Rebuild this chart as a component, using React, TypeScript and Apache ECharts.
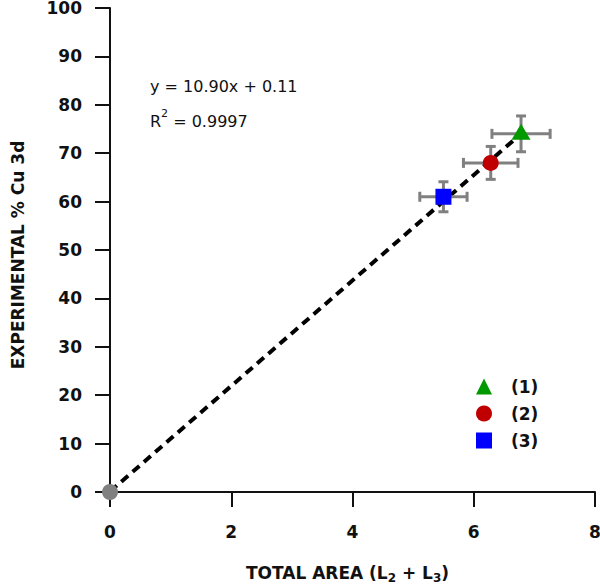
import React, { useEffect, useRef } from "react";
import * as echarts from "echarts";

const seriesNames = ["(1)", "(2)", "(3)"];
const xValues = [6.78, 6.28, 5.5];
const yValues = [74.0, 68.0, 61.0];
const xErrors = [0.48, 0.45, 0.39];
const yErrors = [3.7, 3.4, 3.1];
const originPoint = [0, 0];
const fitSlope = 10.9;
const fitIntercept = 0.11;
const fitXRange = [0, 6.78];
const xTicks = [0, 2, 4, 6, 8];
const yTicks = [0, 10, 20, 30, 40, 50, 60, 70, 80, 90, 100];
const equationText = "y = 10.90x + 0.11";
const r2Text = "0.9997";

const colors = ["#009900", "#c00000", "#0000ff"];
const symbols = ["triangle", "circle", "rect"];
const FONT = "'DejaVu Sans', sans-serif";

export default function App() {
  const ref = useRef<HTMLDivElement>(null);
  useEffect(() => {
    if (!ref.current) return;
    document.body.style.margin = "0";
    const chart = echarts.init(ref.current, null, { renderer: "svg" });
    const fitData = fitXRange.map((x) => [x, fitSlope * x + fitIntercept]);
    const errData = xValues.map((x, i) => [x, yValues[i], xErrors[i], yErrors[i]]);
    const axisCommon = {
      axisLine: { show: true, lineStyle: { color: "#111", width: 2 } },
      axisTick: { show: true, length: 15, lineStyle: { color: "#111", width: 2 } },
      splitLine: { show: false },
    };
    const option: any = {
      animation: false,
      backgroundColor: "#fff",
      grid: { left: 100, right: 5, top: 8, bottom: 86, outerBoundsMode: "none", containLabel: false },
      xAxis: {
        type: "value",
        min: -0.165,
        max: 8,
        ...axisCommon,
        axisTick: { ...axisCommon.axisTick, customValues: xTicks },
        axisLabel: {
          customValues: xTicks,
          showMaxLabel: true,
          hideOverlap: false,
          margin: 21,
          color: "#111",
          fontFamily: FONT,
          fontWeight: "bold",
          fontSize: 17,
        },
        name: "{a|TOTAL AREA (L}{s|2}{a| + L}{s|3}{a|)}",
        nameLocation: "middle",
        nameGap: 61,
        nameTextStyle: {
          rich: {
            a: { fontFamily: FONT, fontWeight: "bold", fontSize: 17, color: "#111", lineHeight: 20 },
            s: { fontFamily: FONT, fontWeight: "bold", fontSize: 12, color: "#111", padding: [10, 0, 0, 0], lineHeight: 20 },
          },
        },
      },
      yAxis: {
        type: "value",
        min: -2.06,
        max: 100,
        ...axisCommon,
        axisTick: { ...axisCommon.axisTick, customValues: yTicks },
        axisLabel: {
          customValues: yTicks,
          showMaxLabel: true,
          margin: 18,
          color: "#111",
          fontFamily: FONT,
          fontWeight: "bold",
          fontSize: 17,
          lineHeight: 15,
        },
        name: "EXPERIMENTAL % Cu 3d",
        nameLocation: "middle",
        nameGap: 74,
        nameTextStyle: { fontFamily: FONT, fontWeight: "bold", fontSize: 17, color: "#111" },
      },
      legend: {
        orient: "vertical",
        left: 471,
        top: 373,
        itemWidth: 16,
        itemHeight: 16,
        itemGap: 10,
        data: seriesNames.map((n, i) => ({ name: n, icon: symbols[i] })),
        textStyle: { fontFamily: FONT, fontWeight: "bold", fontSize: 17, color: "#111", padding: [0, 0, 0, 14] },
        selectedMode: false,
      },
      graphic: [
        {
          type: "text",
          left: 150,
          top: 78,
          style: { text: equationText, font: `16px ${FONT}`, fill: "#111" },
        },
        {
          type: "text",
          left: 150,
          top: 108,
          style: {
            text: "{a|R}{sup|2}{a| = " + r2Text + "}",
            rich: {
              a: { font: `16px ${FONT}`, fill: "#111", lineHeight: 22, verticalAlign: "bottom" },
              sup: { font: `11px ${FONT}`, fill: "#111", padding: [0, 0, 10, 0], lineHeight: 22, verticalAlign: "bottom" },
            },
          },
        },
      ],
      series: [
        {
          type: "line",
          data: fitData,
          symbol: "none",
          lineStyle: { color: "#000", width: 4, type: [9, 6] },
          z: 1,
        },
        {
          type: "custom",
          data: errData,
          encode: { x: 0, y: 1 },
          z: 2,
          renderItem: (params: any, api: any) => {
            const x = api.value(0), y = api.value(1), ex = api.value(2), ey = api.value(3);
            const l = api.coord([x - ex, y]);
            const r = api.coord([x + ex, y]);
            const t = api.coord([x, y + ey]);
            const b = api.coord([x, y - ey]);
            const cap = 5;
            const style = { stroke: "#808080", lineWidth: 3 };
            return {
              type: "group",
              children: [
                { type: "line", shape: { x1: l[0], y1: l[1], x2: r[0], y2: r[1] }, style },
                { type: "line", shape: { x1: l[0], y1: l[1] - cap, x2: l[0], y2: l[1] + cap }, style },
                { type: "line", shape: { x1: r[0], y1: r[1] - cap, x2: r[0], y2: r[1] + cap }, style },
                { type: "line", shape: { x1: t[0], y1: t[1], x2: b[0], y2: b[1] }, style },
                { type: "line", shape: { x1: t[0] - cap, y1: t[1], x2: t[0] + cap, y2: t[1] }, style },
                { type: "line", shape: { x1: b[0] - cap, y1: b[1], x2: b[0] + cap, y2: b[1] }, style },
              ],
            };
          },
        },
        {
          type: "scatter",
          data: [originPoint],
          symbol: "circle",
          symbolSize: 16,
          itemStyle: { color: "#808080", opacity: 1 },
          z: 3,
        },
        ...seriesNames.map((name, i) => ({
          type: "scatter",
          name,
          data: [[xValues[i], yValues[i]]],
          symbol: symbols[i],
          symbolSize: i === 0 ? [19, 16] : 16,
          symbolOffset: i === 0 ? [0, -2] : [0, 0],
          itemStyle: { color: colors[i], opacity: 1 },
          z: 4,
        })),
      ],
    };
    chart.setOption(option);
    return () => chart.dispose();
  }, []);
  return <div ref={ref} style={{ width: 600, height: 588 }} />;
}
